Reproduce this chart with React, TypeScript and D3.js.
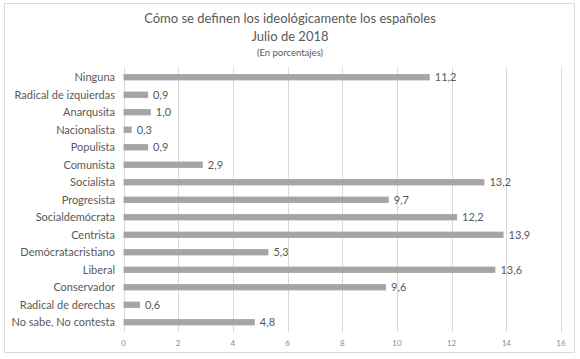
import React, { useRef, useEffect } from 'react';
import * as d3 from 'd3';

const categories = [
  'Ninguna',
  'Radical de izquierdas',
  'Anarqusita',
  'Nacionalista',
  'Populista',
  'Comunista',
  'Socialista',
  'Progresista',
  'Socialdemócrata',
  'Centrista',
  'Demócratacristiano',
  'Liberal',
  'Conservador',
  'Radical de derechas',
  'No sabe, No contesta',
];
const values = [11.2, 0.9, 1.0, 0.3, 0.9, 2.9, 13.2, 9.7, 12.2, 13.9, 5.3, 13.6, 9.6, 0.6, 4.8];
const xTicks = [0, 2, 4, 6, 8, 10, 12, 14, 16];
const titleLines = ['Cómo se definen los ideológicamente los españoles', 'Julio de 2018'];
const subtitle = '(En porcentajes)';

const W = 580;
const H = 359;
const FONT = 'Lato, "Open Sans", sans-serif';

const App = () => {
  const svgRef = useRef<SVGSVGElement>(null);

  useEffect(() => {
    if (!svgRef.current) return;
    const svg = d3.select(svgRef.current);
    svg.selectAll('*').remove();

    // chart frame
    svg.append('rect')
      .attr('x', 4.5).attr('y', 3.5)
      .attr('width', 570).attr('height', 349)
      .attr('fill', '#fff')
      .attr('stroke', '#d9d9d9');

    // titles
    svg.selectAll('.title')
      .data(titleLines)
      .enter()
      .append('text')
      .attr('x', 290)
      .attr('y', (d, i) => 23 + i * 18)
      .attr('text-anchor', 'middle')
      .attr('font-family', FONT)
      .attr('font-size', 13)
      .attr('fill', '#595959')
      .text(d => d);

    svg.append('text')
      .attr('x', 290).attr('y', 56)
      .attr('text-anchor', 'middle')
      .attr('font-family', FONT)
      .attr('font-size', 9.5)
      .attr('fill', '#595959')
      .text(subtitle);

    const x = d3.scaleLinear().domain([0, 16]).range([123.5, 561]);
    const y = d3.scaleBand()
      .domain(categories)
      .range([68.5, 331])
      .paddingInner(0.64)
      .paddingOuter(0.32);

    // gridlines
    svg.append('g')
      .selectAll('line')
      .data(xTicks)
      .enter()
      .append('line')
      .attr('x1', d => Math.round(x(d)) + 0.5)
      .attr('x2', d => Math.round(x(d)) + 0.5)
      .attr('y1', 67)
      .attr('y2', 332)
      .attr('stroke', '#d9d9d9')
      .attr('stroke-width', 1);

    // x tick labels
    svg.append('g')
      .selectAll('text')
      .data(xTicks)
      .enter()
      .append('text')
      .attr('x', d => x(d))
      .attr('y', 346)
      .attr('text-anchor', 'middle')
      .attr('font-family', FONT)
      .attr('font-size', 8)
      .attr('fill', '#8c8c8c')
      .text(d => d);

    // bars
    svg.append('g')
      .selectAll('rect')
      .data(values)
      .enter()
      .append('rect')
      .attr('x', x(0))
      .attr('y', (d, i) => y(categories[i])!)
      .attr('width', d => x(d) - x(0))
      .attr('height', y.bandwidth())
      .attr('fill', '#a5a5a5');

    // category labels
    svg.append('g')
      .selectAll('text')
      .data(categories)
      .enter()
      .append('text')
      .attr('x', 115)
      .attr('y', d => y(d)! + y.bandwidth() / 2)
      .attr('dy', '0.35em')
      .attr('text-anchor', 'end')
      .attr('font-family', FONT)
      .attr('font-size', 11)
      .attr('fill', '#595959')
      .text(d => d);

    // value labels
    svg.append('g')
      .selectAll('text')
      .data(values)
      .enter()
      .append('text')
      .attr('x', d => x(d) + 5)
      .attr('y', (d, i) => y(categories[i])! + y.bandwidth() / 2)
      .attr('dy', '0.35em')
      .attr('font-family', FONT)
      .attr('font-size', 11)
      .attr('fill', '#595959')
      .text(d => d.toFixed(1).replace('.', ','));
  }, []);

  return (
    <svg
      ref={svgRef}
      width={W}
      height={H}
      style={{ position: 'fixed', left: 0, top: 0, background: '#fff' }}
    />
  );
};

export default App;
